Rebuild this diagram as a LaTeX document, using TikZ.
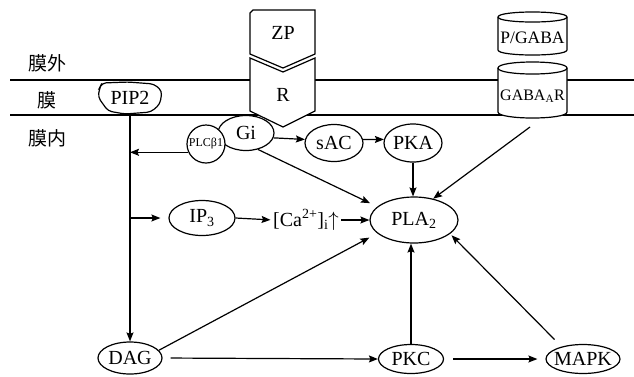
\documentclass[tikz,border=0pt]{standalone}
\usepackage{fontspec}
\setmainfont{Liberation Serif}
\newfontfamily\cjk{Noto Sans CJK SC}
\usetikzlibrary{shapes.geometric,arrows.meta}

\begin{document}
\begin{tikzpicture}[x=1pt,y=-1pt,line width=1.2pt,
  arr/.style={-{Stealth[length=9pt,width=7pt,inset=1.5pt]}},
  oval/.style={ellipse,draw,fill=white,inner sep=0pt,font=\fontsize{20}{22}\selectfont},
  lbl/.style={inner sep=0pt,font=\fontsize{20}{22}\selectfont},
  zh/.style={inner sep=0pt,font=\cjk\fontsize{19}{21}\selectfont}]
\useasboundingbox (0,0) rectangle (634,376);

% membrane boundaries
\draw (10,80) -- (634,80);
\draw (10,115) -- (634,115);

% side labels
\node[zh] (outside) at (47,63) {膜外};
\node[zh] (membrane) at (47,100) {膜};
\node[zh] (inside) at (47,138) {膜内};

% PIP2 embedded in the membrane
\draw[fill=white,rounded corners=4pt]
  (102,83) -- (128,82) -- (154,84) -- (162,91) -- (160,104) -- (151,112)
  -- (125,114) -- (108,111) -- (98,97) -- (100,87) -- cycle;
\node[lbl] (PIP) at (130,98) {PIP2};
\coordinate (PIPb) at (130,114);

% G protein and PLC beta 1
\node[oval,minimum width=56,minimum height=35] (Gi) at (246,133) {Gi};
\node[circle,draw,fill=white,minimum size=38,inner sep=0pt,
      font=\fontsize{12}{12}\selectfont] (PLC) at (206,144) {\makebox[0pt]{PLCβ1}};

% ZP ligand and receptor R
\draw[fill=white] (250,13) -- (253,10) -- (315,10) -- (315,54) -- (283,68) -- (250,54) -- cycle;
\draw[fill=white] (250,58) -- (283,72) -- (315,58) -- (315,111) -- (283,127) -- (250,111) -- cycle;
\node[lbl] (ZP) at (283,33) {ZP};
\node[lbl] (R) at (283,95) {R};

% P/GABA and GABA_A receptor cylinders
\draw[fill=white] (498,17) .. controls (498,10.33) and (567,10.33) .. (567,17) -- (567,50)
  .. controls (567,56.67) and (498,56.67) .. (498,50) -- cycle;
\draw (498,17) .. controls (498,23.67) and (567,23.67) .. (567,17);
\draw[fill=white] (498,68) .. controls (498,60) and (567,60) .. (567,68) -- (567,112)
  .. controls (567,120) and (498,120) .. (498,112) -- cycle;
\draw (498,68) .. controls (498,76) and (567,76) .. (567,68);
\node[inner sep=0pt,font=\fontsize{17.5}{19}\selectfont] (PGABA) at (532.5,38) {P/GABA};
\node[inner sep=0pt,font=\fontsize{16}{18}\selectfont] (GABAR) at (532.5,96) {GABA\textsubscript{A}R};
\coordinate (gabaOut) at (530,127);

% cytoplasmic messengers
\node[oval,minimum width=58,minimum height=37] (sAC) at (334,143) {sAC};
\node[oval,minimum width=58,minimum height=38] (PKA) at (413,143) {PKA};
\node[oval,minimum width=66,minimum height=35] (IP3) at (202,218) {IP\textsubscript{3}};
\node[lbl] (Ca) at (306,220) {[Ca\textsuperscript{2+}]\textsubscript{i}$\uparrow$};
\node[oval,minimum width=88,minimum height=46] (PLA) at (414,220) {PLA\textsubscript{2}};
\node[oval,minimum width=64,minimum height=32] (DAG) at (130,358) {DAG};
\node[oval,minimum width=65,minimum height=29] (PKC) at (411,359) {PKC};
\node[oval,minimum width=74,minimum height=29] (MAPK) at (583,359) {\makebox[0pt]{MAPK}};

% pathways
\draw[arr] (PIPb) -- (DAG.north);
\draw[arr] (PLC.205) -- (PLC.205 -| PIPb);
\draw[arr,shorten >=8pt] (PIPb |- IP3.west) -- (IP3.west);
\draw[arr,shorten >=2pt] (IP3.east) -- (Ca.west);
\draw[arr,shorten <=2pt] (Ca.east) -- (PLA.west);
\draw[arr] (Gi.-10) -- (sAC.173);
\draw[arr] (sAC.7) -- (PKA.173);
\draw[arr] (PKA.south) -- (PKA.south |- PLA.north);
\draw[arr,shorten >=8pt] (Gi.-54) -- (PLA.160);
\draw[arr] (gabaOut) -- (PLA.48);
\draw[arr,shorten >=9pt] (DAG.15) -- (PLA.200);
\draw[arr] (PKC.north) -- (PKC.north |- PLA.south);
\draw[arr,shorten <=10pt,shorten >=2pt] (MAPK.150) -- (PLA.-21);
\draw[arr,shorten <=8pt] (DAG.east) -- (PKC.west);
\draw[arr,shorten <=9pt,shorten >=8pt] (PKC.east) -- (MAPK.west);
\end{tikzpicture}
\end{document}
